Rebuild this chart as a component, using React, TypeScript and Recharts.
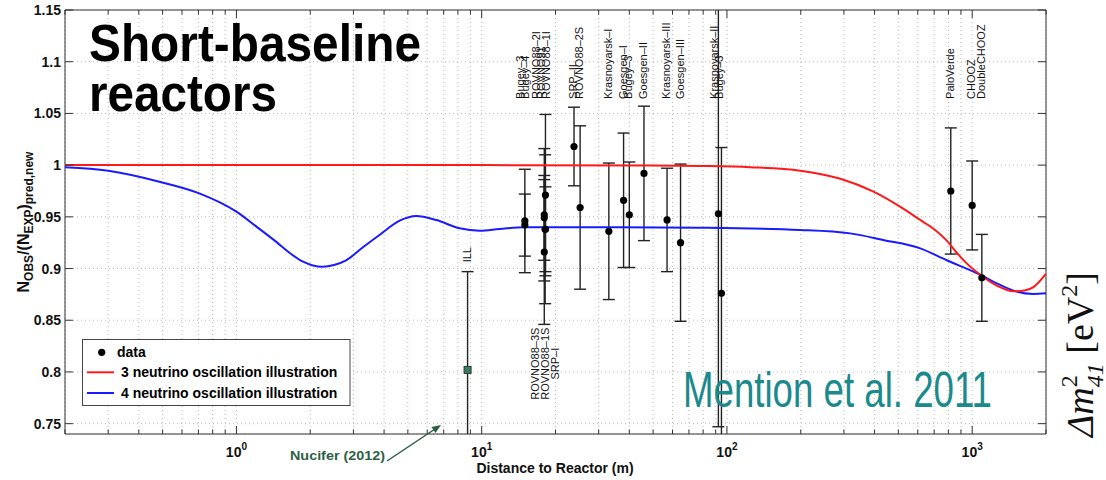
import React from 'react';
import {
  ComposedChart,
  Line,
  Scatter,
  XAxis,
  YAxis,
  CartesianGrid,
  ErrorBar,
  ReferenceArea,
} from 'recharts';

const W = 1106;
const H = 480;
const PLOT = { left: 65, top: 10, right: 1046, bottom: 434 };
const Y_AXIS_W = 60;
const X_AXIS_H = 30;
const FONT = '"Liberation Sans", Arial, Helvetica, sans-serif';
const SERIF = '"Liberation Serif", "Times New Roman", serif';

// reactor experiments: distance (m), observed/predicted ratio, 1 sigma error
const siteNames = [
  'Bugey-4', 'Bugey-3', 'ROVNO91', 'ROVNO88-1I', 'ROVNO88-2I', 'ROVNO88-1S', 'ROVNO88-3S', 'SRP-I',
  'SRP-II', 'ROVNO88-2S', 'Krasnoyarsk-I', 'Goesgen-I', 'Bugey-3', 'Goesgen-II', 'Krasnoyarsk-III',
  'Goesgen-III', 'Krasnoyarsk-II', 'Bugey-3', 'PaloVerde', 'CHOOZ', 'DoubleCHOOZ',
];
const siteDist = [15, 15, 18, 18, 18, 18.15, 18.2, 18.2, 23.8, 25.2, 33, 37.9, 40, 45.9, 57, 64.7, 92.3, 95, 818, 1000, 1095];
const siteRatio = [0.942, 0.946, 0.949, 0.916, 0.952, 0.938, 0.971, 0.938, 1.018, 0.959, 0.936, 0.966, 0.952, 0.992, 0.947, 0.925, 0.953, 0.876, 0.975, 0.961, 0.891];
const siteError = [0.03, 0.05, 0.041, 0.07, 0.064, 0.072, 0.078, 0.041, 0.038, 0.079, 0.066, 0.065, 0.051, 0.065, 0.05, 0.076, 0.206, 0.141, 0.061, 0.043, 0.042];

// ILL point (highlighted)
const illDist = 8.76;
const illRatio = 0.802;
const illError = 0.095;

// rotated name tags
const topLabels = [
  'Bugey–3', 'Bugey–4', 'ROVNO88–2I', 'ROVNO91', 'ROVNO88–1I', 'SRP–II', 'ROVNO88–2S', 'Krasnoyarsk–I',
  'Goesgen–I', 'Bugey–3', 'Goesgen–II', 'Krasnoyarsk–III', 'Goesgen–III', 'Krasnoyarsk–II', 'Bugey–3',
  'PaloVerde', 'CHOOZ', 'DoubleCHOOZ',
];
const topLabelDist = [15, 15, 18, 18, 18, 23.8, 25.2, 33, 37.9, 40, 45.9, 57, 64.7, 92.3, 92.3, 818, 1000, 1095];
const bottomLabels = ['ROVNO88–3S', 'ROVNO88–1S', 'SRP–I'];
const bottomLabelDist = 18;

// oscillation curves
const curveDist3 = [0.2, 1, 10, 50, 77.6, 124, 199, 288, 396, 508, 614, 700, 788, 860, 950, 1079, 1260, 1475, 1650, 1778, 2000];
const curveRatio3 = [1.0, 1.0, 1.0, 0.9997, 0.9992, 0.998, 0.9946, 0.987, 0.9743, 0.9598, 0.947, 0.938, 0.927, 0.916, 0.905, 0.894, 0.8835, 0.878, 0.879, 0.882, 0.895];
const curveDist4 = [
  0.2, 0.3, 0.485, 0.706, 1.0, 1.2, 1.45, 1.65, 1.87, 2.05, 2.25, 2.5, 2.8, 3.3, 3.83, 4.63, 5.41, 6.53,
  8.13, 9.82, 11.8, 15, 36.5, 77.6, 199, 318, 434, 614, 788, 1079, 1260, 1475, 1778, 2000,
];
const curveRatio4 = [
  0.998, 0.9946, 0.984, 0.9727, 0.955, 0.941, 0.926, 0.915, 0.9066, 0.903, 0.9018, 0.9035, 0.908, 0.921,
  0.9324, 0.9463, 0.9508, 0.9469, 0.9389, 0.9366, 0.9382, 0.94, 0.94, 0.9395, 0.9373, 0.934, 0.9276,
  0.9195, 0.908, 0.894, 0.8857, 0.8786, 0.8754, 0.876,
];

const yTicks = [0.75, 0.8, 0.85, 0.9, 0.95, 1, 1.05, 1.1, 1.15];
const yTickLabels = ['0.75', '0.8', '0.85', '0.9', '0.95', '1', '1.05', '1.1', '1.15'];
const xDomain = [0.2, 2000];
const yDomain = [0.74, 1.15];

const xTicks: number[] = [];
[0.1, 1, 10, 100, 1000].forEach((dec) => {
  for (let m = 1; m <= 9; m++) {
    const v = Number((m * dec).toPrecision(3));
    if (v >= xDomain[0] && v <= xDomain[1]) xTicks.push(v);
  }
});

const points = siteNames.map((name, i) => ({ name, d: siteDist[i], v: siteRatio[i], e: siteError[i] }));
const illPoint = [{ name: 'ILL', d: illDist, v: illRatio, e: illError }];
const red = curveDist3.map((d, i) => ({ d, v: curveRatio3[i] }));
const blue = curveDist4.map((d, i) => ({ d, v: curveRatio4[i] }));

const TOP_TAG = 1.064;
const BOTTOM_TAG = 0.808;
const ILL_TAG = 0.906;

const topTags = topLabels.map((name, i) => {
  const same = topLabelDist.filter((d) => d === topLabelDist[i]).length;
  const k = topLabelDist.slice(0, i).filter((d) => d === topLabelDist[i]).length;
  return { name, d: topLabelDist[i], v: TOP_TAG, k, n: same };
});
const bottomTags = bottomLabels.map((name, k) => ({ name, d: bottomLabelDist, v: BOTTOM_TAG, k }));
const illTag = [{ name: 'ILL', d: illDist, v: ILL_TAG }];

const XTick = (props: any) => {
  const { x, y, payload } = props;
  const e = Math.log10(payload.value);
  const major = Math.abs(e - Math.round(e)) < 1e-9;
  const len = major ? 8 : 4.5;
  return (
    <g>
      <line x1={x} x2={x} y1={y} y2={y - len} stroke="#333" />
      <line x1={x} x2={x} y1={PLOT.top} y2={PLOT.top + len} stroke="#333" />
      {major && (
        <text x={x} y={y + 23} textAnchor="middle" fontFamily={FONT} fontWeight="bold" fontSize={14} fill="#111">
          10
          <tspan dy={-7} fontSize={10}>
            {Math.round(e)}
          </tspan>
        </text>
      )}
    </g>
  );
};

const YTick = (props: any) => {
  const { x, y, payload } = props;
  const idx = yTicks.findIndex((t) => Math.abs(t - payload.value) < 1e-6);
  return (
    <g>
      <line x1={x} x2={x + 8} y1={y} y2={y} stroke="#333" />
      <line x1={PLOT.right - 8} x2={PLOT.right} y1={y} y2={y} stroke="#333" />
      <text x={x - 4} y={y + 5} textAnchor="end" fontFamily={FONT} fontWeight="bold" fontSize={14} fill="#111">
        {yTickLabels[idx]}
      </text>
    </g>
  );
};

const Dot = (props: any) => <circle cx={props.cx} cy={props.cy} r={3.6} fill="#000" />;

const IllMark = (props: any) => (
  <rect x={props.cx - 3.5} y={props.cy - 3.5} width={7} height={7} fill="#3f7a62" stroke="#1f3f30" />
);

const TopTag = (props: any) => {
  const { cx, cy, payload } = props;
  const x = cx + 3 + (payload.k - (payload.n - 1) * 0.75) * 5;
  return (
    <text transform={`translate(${x},${cy}) rotate(-90)`} fontFamily={FONT} fontSize={11} fill="#111">
      {payload.name}
    </text>
  );
};

const BottomTag = (props: any) => {
  const { cx, cy, payload } = props;
  const x = cx + 5 + (payload.k - 1) * 10;
  return (
    <text transform={`translate(${x},${cy}) rotate(-90)`} textAnchor="middle" fontFamily={FONT} fontSize={11} fill="#111">
      {payload.name}
    </text>
  );
};

const IllTag = (props: any) => (
  <text transform={`translate(${props.cx + 3},${props.cy}) rotate(-90)`} fontFamily={FONT} fontSize={11} fill="#111">
    {props.payload.name}
  </text>
);

const App = () => {
  return (
    <div style={{ position: 'absolute', left: 0, top: 0, width: W, height: H, background: '#fff' }}>
      <style>{`.recharts-errorBars, .recharts-errorBar { clip-path: url(#plotClip); }`}</style>
      <svg width={0} height={0} style={{ position: 'absolute' }}>
        <defs>
          <clipPath id="plotClip" clipPathUnits="userSpaceOnUse">
            <rect x={PLOT.left} y={PLOT.top} width={PLOT.right - PLOT.left} height={PLOT.bottom - PLOT.top} />
          </clipPath>
        </defs>
      </svg>
      <ComposedChart
        width={W}
        height={H}
        margin={{
          top: PLOT.top,
          left: PLOT.left - Y_AXIS_W,
          right: W - PLOT.right,
          bottom: H - PLOT.bottom - X_AXIS_H,
        }}
      >
        <CartesianGrid stroke="#b8b8b8" strokeDasharray="1 3" />
        <XAxis
          dataKey="d"
          type="number"
          scale="log"
          domain={xDomain}
          allowDataOverflow
          ticks={xTicks}
          interval={0}
          height={X_AXIS_H}
          tickSize={0}
          tickMargin={0}
          axisLine={false}
          tickLine={false}
          tick={(p: any) => <XTick {...p} />}
        />
        <YAxis
          type="number"
          domain={yDomain}
          allowDataOverflow
          ticks={yTicks}
          interval={0}
          width={Y_AXIS_W}
          tickSize={0}
          tickMargin={0}
          axisLine={false}
          tickLine={false}
          tick={(p: any) => <YTick {...p} />}
        />
        <ReferenceArea
          x1={xDomain[0]}
          x2={xDomain[1]}
          y1={yDomain[0]}
          y2={yDomain[1]}
          fill="none"
          stroke="#333"
          strokeWidth={1}
          ifOverflow="visible"
        />
        <Scatter data={points} dataKey="v" shape={<Dot />} isAnimationActive={false}>
          <ErrorBar dataKey="e" direction="y" width={6} stroke="#222" strokeWidth={1.4} isAnimationActive={false} />
        </Scatter>
        <Scatter data={illPoint} dataKey="v" shape={<IllMark />} isAnimationActive={false}>
          <ErrorBar dataKey="e" direction="y" width={6} stroke="#222" strokeWidth={1.4} isAnimationActive={false} />
        </Scatter>
        <Scatter data={topTags} dataKey="v" shape={<TopTag />} isAnimationActive={false} />
        <Scatter data={bottomTags} dataKey="v" shape={<BottomTag />} isAnimationActive={false} />
        <Scatter data={illTag} dataKey="v" shape={<IllTag />} isAnimationActive={false} />
        <Line data={blue} dataKey="v" type="monotone" stroke="#1a1aff" strokeWidth={2} dot={false} isAnimationActive={false} />
        <Line data={red} dataKey="v" type="monotone" stroke="#ff1a1a" strokeWidth={2} dot={false} isAnimationActive={false} />
      </ComposedChart>

      <svg width={W} height={H} style={{ position: 'absolute', left: 0, top: 0, pointerEvents: 'none' }}>
        <text x={89} y={61} fontFamily={FONT} fontWeight="bold" fontSize={52} fill="#000" textLength={332} lengthAdjust="spacingAndGlyphs">
          Short-baseline
        </text>
        <text x={89} y={111} fontFamily={FONT} fontWeight="bold" fontSize={52} fill="#000" textLength={188} lengthAdjust="spacingAndGlyphs">
          reactors
        </text>

        {/* legend */}
        <rect x={82.5} y={339.5} width={267.5} height={66} fill="#fff" stroke="#444" />
        <circle cx={101.7} cy={352.3} r={3.6} fill="#000" />
        <text x={117} y={357.3} fontFamily={FONT} fontWeight="bold" fontSize={14} fill="#000">data</text>
        <line x1={87} x2={114} y1={372.3} y2={372.3} stroke="#ff1a1a" strokeWidth={2} />
        <text x={121} y={377.3} fontFamily={FONT} fontWeight="bold" fontSize={14} fill="#000">
          3 neutrino oscillation illustration
        </text>
        <line x1={87} x2={114} y1={393} y2={393} stroke="#1a1aff" strokeWidth={2} />
        <text x={121} y={398} fontFamily={FONT} fontWeight="bold" fontSize={14} fill="#000">
          4 neutrino oscillation illustration
        </text>

        <text x={683} y={407} fontFamily={FONT} fontSize={50} fill="#1b8a8c" textLength={309} lengthAdjust="spacingAndGlyphs">
          Mention et al. 2011
        </text>

        {/* Nucifer pointer */}
        <text x={290} y={460} fontFamily={FONT} fontWeight="bold" fontSize={13} fill="#2c5e45" textLength={95} lengthAdjust="spacingAndGlyphs">
          Nucifer (2012)
        </text>
        <line x1={387} y1={461} x2={435} y2={429} stroke="#2c5e45" strokeWidth={1.5} />
        <polygon points="441,425 435.5,432.9 431.5,427.1" fill="#2c5e45" />

        <text x={555} y={473} textAnchor="middle" fontFamily={FONT} fontWeight="bold" fontSize={14} fill="#111">
          Distance to Reactor (m)
        </text>

        <text transform="translate(29,222) rotate(-90)" textAnchor="middle" fontFamily={FONT} fontWeight="bold" fontSize={16} fill="#111">
          N
          <tspan fontSize={12} dy={4}>OBS</tspan>
          <tspan dy={-4}>/(N</tspan>
          <tspan fontSize={12} dy={4}>EXP</tspan>
          <tspan dy={-4}>)</tspan>
          <tspan fontSize={12} dy={4}>pred,new</tspan>
        </text>

        <text transform="translate(1093,437) rotate(-90)" fontFamily={SERIF} fontSize={38} fill="#111">
          <tspan fontStyle="italic">Δm</tspan>
          <tspan fontSize={24} dy={-16}>2</tspan>
          <tspan fontSize={24} fontStyle="italic" dx={-12} dy={26}>41</tspan>
          <tspan dy={-10}>{'  [eV'}</tspan>
          <tspan fontSize={24} dy={-16}>2</tspan>
          <tspan dy={16}>]</tspan>
        </text>
      </svg>
    </div>
  );
};

export default App;
